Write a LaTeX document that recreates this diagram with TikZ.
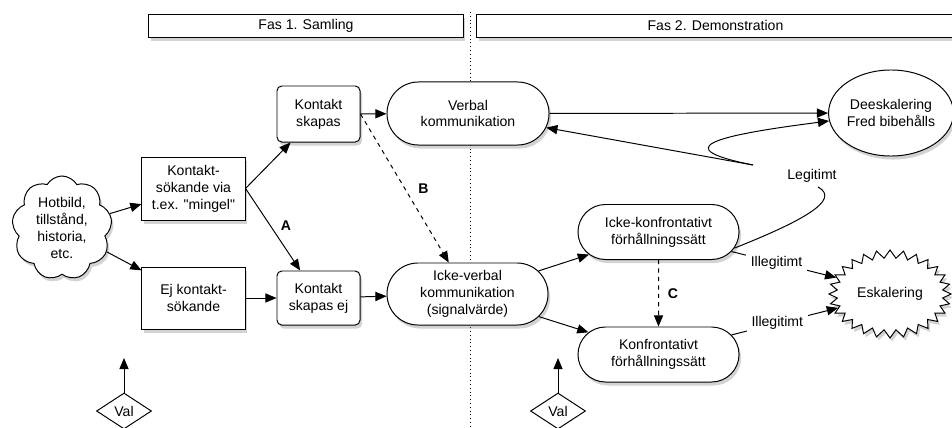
\documentclass[tikz,border=0pt]{standalone}
\usepackage{fontspec}
\setmainfont{Liberation Sans}[Ligatures=TeXOff]
\usetikzlibrary{arrows.meta,shapes.geometric,shapes.misc,shapes.symbols,shadows}

\begin{document}
\begin{tikzpicture}[x=0.025cm, y=-0.025cm, line width=0.7pt]
    \tikzstyle{shadowed}=[drop shadow={shadow xshift=1.5pt, shadow yshift=-2.5pt, opacity=0.35}];
    \tikzstyle{box}=[rectangle, draw, fill=white, align=center, inner sep=0pt, shadowed];
    \tikzstyle{roundbox}=[box, rounded corners=0.12cm];
    \tikzstyle{pill}=[rounded rectangle, draw, fill=white, align=center, inner sep=0pt, shadowed];
    \tikzstyle{header}=[box, minimum height=0.575cm];
    \tikzstyle{valbox}=[diamond, draw, fill=white, inner sep=0pt, minimum width=1.375cm, minimum height=0.9cm];
    \tikzstyle{arr}=[-{Triangle[length=2.8mm, width=2.3mm]}];

    \useasboundingbox (0,0) rectangle (952,427);

    % phase divider
    \coordinate (divtop) at (470,12);
    \coordinate (divbot) at (470,427);
    \draw[dotted] (divtop) -- (divbot);

    \node (fas1) at (306,25.5) [header, minimum width=7.85cm] {Fas 1. Samling};
    \node (fas2) at (715.5,25.5) [header, minimum width=11.925cm] {Fas 2. Demonstration};

    \node (cloud) at (62,228) [cloud, cloud puffs=9, cloud puff arc=120, aspect=1, draw, fill=white,
        align=center, inner sep=0pt, minimum width=2.5cm, minimum height=2.6cm, shadowed]
        {Hotbild,\\tillstånd,\\historia,\\etc.};

    \node (ksok) at (193.5,188.5) [box, minimum width=2.575cm, minimum height=1.575cm] {Kontakt-\\sökande via\\t.ex. "mingel"};
    \node (ejk) at (193.5,298) [box, minimum width=2.575cm, minimum height=1.55cm] {Ej kontakt-\\sökande};

    \node (ks) at (318.5,114) [roundbox, minimum width=2.075cm, minimum height=1.4cm] {Kontakt\\skapas};
    \node (kse) at (318.5,298) [roundbox, minimum width=2.075cm, minimum height=1.35cm] {Kontakt\\skapas ej};

    \node (verbal) at (468,113.5) [pill, minimum width=4.05cm, minimum height=1.575cm] {Verbal\\kommunikation};
    \node (ickv) at (467.5,294) [pill, minimum width=4.025cm, minimum height=1.55cm] {Icke-verbal\\kommunikation\\(signalvärde)};

    \node (ikfr) at (658.5,232) [pill, minimum width=4.025cm, minimum height=1.375cm] {Icke-konfrontativt\\förhållningssätt};
    \node (konf) at (658.5,354.5) [pill, minimum width=4.025cm, minimum height=1.375cm] {Konfrontativt\\förhållningssätt};

    \node (deesk) at (891,113) [ellipse, draw, fill=white, align=center, inner sep=0pt,
        minimum width=3.05cm, minimum height=2.15cm, shadowed] {Deeskalering\\Fred bibehålls};
    \node (esk) at (890,294) [starburst, starburst points=28, starburst point height=0.2cm, random starburst=0,
        draw, fill=white, inner sep=0pt, minimum width=3.05cm, minimum height=2.2cm, shadowed] {Eskalering};

    \node (val1) at (124,411) [valbox] {Val};
    \node (val2) at (558,411) [valbox] {Val};
    \coordinate (val1tip) at (124,358);
    \coordinate (val2tip) at (558,358);

    \node (leg) at (812,176) {Legitimt};
    \coordinate (legfork) at (753,165);
    \coordinate (leghook) at (818,187);

    % phase 1
    \draw (cloud) edge[arr] (ksok);
    \draw (cloud) edge[arr] (ejk);
    \draw (ksok.east) edge[arr] (ks);
    \draw (ksok.east) edge[arr] node[pos=0.45, right=4pt, font=\bfseries] {A} (kse);
    \draw (ejk) edge[arr] (kse);
    \draw (ks) edge[arr] (verbal);
    \draw (kse) edge[arr] (ickv);
    \draw (ks.east) edge[arr, dashed] node[pos=0.5, right=6pt, font=\bfseries] {B} (ickv);

    % phase 2
    \draw (verbal) edge[arr] (deesk);
    \draw (ickv) edge[arr] (ikfr);
    \draw (ickv) edge[arr] (konf);
    \draw (ikfr) edge[arr, dashed] node[pos=0.5, right=3pt, font=\bfseries] {C} (konf);

    \draw (ikfr.-12) .. controls (800,222) and (842,200) .. (leghook);
    \draw (legfork) edge[arr] (verbal);
    \draw[arr] (legfork) .. controls (668,148) and (712,136) .. (deesk);

    \draw (ikfr.-15) edge[arr] node[pos=0.43, fill=white] {Illegitimt} (esk.163);
    \draw (konf.15) edge[arr] node[pos=0.43, fill=white] {Illegitimt} (esk.-165);

    \draw (val1) edge[arr] (val1tip);
    \draw (val2) edge[arr] (val2tip);

\end{tikzpicture}
\end{document}
